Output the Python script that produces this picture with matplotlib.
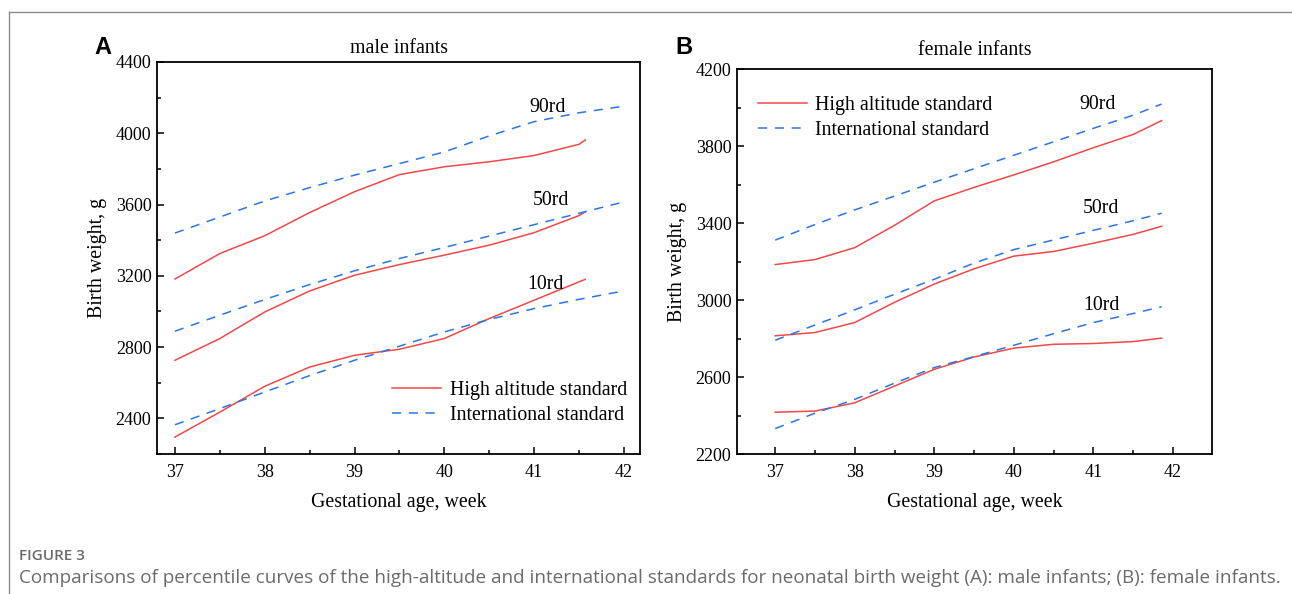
import matplotlib
matplotlib.use("Agg")
import matplotlib.pyplot as plt
from matplotlib.lines import Line2D
from matplotlib.ticker import MultipleLocator

# ---------------- data ----------------
weeks_half = [37, 37.5, 38, 38.5, 39, 39.5, 40, 40.5, 41, 41.5]

# Panel A (male)
male_high_x = weeks_half + [41.57]
male_high_90 = [3182, 3325, 3425, 3555, 3672, 3768, 3812, 3840, 3875, 3938, 3962]
male_high_50 = [2726, 2848, 2997, 3115, 3203, 3263, 3316, 3372, 3442, 3538, 3559]
male_high_10 = [2295, 2435, 2580, 2688, 2754, 2788, 2848, 2960, 3063, 3166, 3180]

male_intl_x = weeks_half + [42]
male_intl_90 = [3440, 3530, 3620, 3695, 3765, 3830, 3895, 3985, 4065, 4115, 4152]
male_intl_50 = [2889, 2979, 3067, 3151, 3228, 3297, 3359, 3423, 3487, 3551, 3615]
male_intl_10 = [2364, 2455, 2548, 2640, 2726, 2805, 2885, 2955, 3016, 3068, 3115]

# Panel B (female)
female_x = weeks_half + [41.857]
female_high_90 = [3184, 3210, 3272, 3388, 3515, 3585, 3650, 3718, 3791, 3860, 3932]
female_high_50 = [2814, 2831, 2883, 2988, 3083, 3162, 3228, 3252, 3295, 3341, 3383]
female_high_10 = [2417, 2423, 2466, 2553, 2640, 2704, 2750, 2770, 2774, 2784, 2802]

female_intl_90 = [3311, 3392, 3468, 3540, 3612, 3682, 3752, 3822, 3892, 3960, 4018]
female_intl_50 = [2791, 2870, 2949, 3030, 3108, 3192, 3262, 3312, 3362, 3412, 3451]
female_intl_10 = [2332, 2412, 2484, 2568, 2649, 2706, 2765, 2825, 2883, 2930, 2965]

percentile_labels = ["90rd", "50rd", "10rd"]
legend_labels = ["High altitude standard", "International standard"]
xticks = [37, 38, 39, 40, 41, 42]
male_yticks = [2400, 2800, 3200, 3600, 4000, 4400]
female_yticks = [2200, 2600, 3000, 3400, 3800, 4200]

# ---------------- style ----------------
RED = "#F04848"
BLUE = "#2A76E8"
SERIF = "Liberation Serif"
DASH = (0, (6, 5))
FS = 14.3

fig = plt.figure(figsize=(12.92, 5.94), dpi=100)

# outer frame lines (top and left)
fig.add_artist(Line2D([9 / 1292, 1.0], [1 - 12 / 594, 1 - 12 / 594], color="#8a8a8a", lw=1.0))
fig.add_artist(Line2D([9 / 1292, 9 / 1292], [0.0, 1 - 12 / 594], color="#8a8a8a", lw=1.0))

axA = fig.add_axes([157 / 1292, 140 / 594, 483 / 1292, 392 / 594])
axB = fig.add_axes([737 / 1292, 140 / 594, 475 / 1292, 385 / 594])


def style_axis(ax, xlim, ylim, yticks):
    ax.set_xlim(*xlim)
    ax.set_ylim(*ylim)
    ax.set_xticks(xticks)
    ax.set_yticks(yticks)
    ax.xaxis.set_minor_locator(MultipleLocator(0.5))
    ax.yaxis.set_minor_locator(MultipleLocator(200))
    ax.tick_params(which="both", direction="in", top=False, right=False,
                   labelsize=13, width=1.1, color="black")
    ax.tick_params(which="major", length=5)
    ax.tick_params(which="minor", length=3)
    for lab in ax.get_xticklabels() + ax.get_yticklabels():
        lab.set_fontfamily(SERIF)
    ax.tick_params(axis="x", pad=7)
    ax.tick_params(axis="y", pad=4)
    for s in ax.spines.values():
        s.set_linewidth(1.3)
    ax.set_xlabel("Gestational age, week", fontfamily=SERIF, fontsize=FS, labelpad=9)
    ax.set_ylabel("Birth weight, g", fontfamily=SERIF, fontsize=FS, labelpad=6)


handles = [Line2D([], [], color=RED, lw=1.1), Line2D([], [], color=BLUE, lw=1.1, linestyle=DASH)]

# Panel A
for y in (male_high_90, male_high_50, male_high_10):
    axA.plot(male_high_x, y, color=RED, lw=1.1)
for y in (male_intl_90, male_intl_50, male_intl_10):
    axA.plot(male_intl_x, y, color=BLUE, lw=1.1, linestyle=DASH)
style_axis(axA, (36.8, 42.18), (2200, 4400), male_yticks)
axA.set_title("male infants", fontfamily=SERIF, fontsize=FS, pad=6.5)
for lab, (x, y) in zip(percentile_labels, [(41.15, 4142), (41.19, 3625), (41.13, 3153)]):
    axA.text(x, y, lab, fontfamily=SERIF, fontsize=FS, ha="center", va="center")
axA.legend(handles, legend_labels, loc="lower left", bbox_to_anchor=(0.487, 0.075),
           frameon=False, prop={"family": SERIF, "size": FS}, handlelength=2.45,
           handletextpad=0.45, labelspacing=0.3, borderpad=0, borderaxespad=0)

# Panel B
for y in (female_high_90, female_high_50, female_high_10):
    axB.plot(female_x, y, color=RED, lw=1.1)
for y in (female_intl_90, female_intl_50, female_intl_10):
    axB.plot(female_x, y, color=BLUE, lw=1.1, linestyle=DASH)
style_axis(axB, (36.52, 42.49), (2200, 4200), female_yticks)
axB.set_title("female infants", fontfamily=SERIF, fontsize=FS, pad=10)
for lab, (x, y) in zip(percentile_labels, [(41.05, 4013), (41.09, 3473), (41.1, 2974)]):
    axB.text(x, y, lab, fontfamily=SERIF, fontsize=FS, ha="center", va="center")
axB.legend(handles, legend_labels, loc="upper left", bbox_to_anchor=(0.044, 0.93),
           frameon=False, prop={"family": SERIF, "size": FS}, handlelength=2.45,
           handletextpad=0.45, labelspacing=0.3, borderpad=0, borderaxespad=0)

# panel letters
fig.text(103 / 1292, 1 - 48 / 594, "A", fontfamily="Liberation Sans", fontweight="bold",
         fontsize=17, ha="center", va="center")
fig.text(684 / 1292, 1 - 48 / 594, "B", fontfamily="Liberation Sans", fontweight="bold",
         fontsize=17, ha="center", va="center")

# caption
fig.text(19 / 1292, 1 - 556 / 594, "FIGURE 3", fontfamily="Open Sans", fontweight="semibold",
         fontsize=11, color="#6b6b6b", ha="left", va="center")
fig.text(19 / 1292, 1 - 578 / 594,
         "Comparisons of percentile curves of the high-altitude and international standards for neonatal birth weight (A): male infants; (B): female infants.",
         fontfamily="Open Sans", fontsize=13.6, color="#6b6b6b", ha="left", va="center")

fig.savefig("out.png", dpi=100)
